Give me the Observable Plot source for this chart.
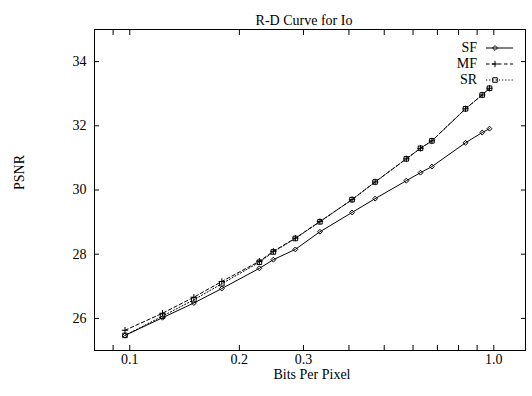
<!DOCTYPE html>
<html>
<head>
<meta charset="utf-8">
<script src="https://cdn.jsdelivr.net/npm/d3@7"></script>
<script src="https://cdn.jsdelivr.net/npm/@observablehq/plot@0.6"></script>
<style>
  html, body { margin: 0; padding: 0; background: #fff; }
  svg { font-family: "Liberation Serif", "Times New Roman", serif; }
</style>
</head>
<body>
<div id="chart"></div>
<script>
const title = "R-D Curve for Io";
const xLabel = "Bits Per Pixel";
const yLabel = "PSNR";
const seriesNames = ["SF", "MF", "SR"];
const bpp = [0.097, 0.123, 0.150, 0.179, 0.227, 0.248, 0.285, 0.333, 0.408, 0.472, 0.575, 0.629, 0.676, 0.836, 0.929, 0.973];
const sf  = [25.47, 26.02, 26.48, 26.93, 27.56, 27.83, 28.15, 28.70, 29.30, 29.73, 30.29, 30.54, 30.73, 31.47, 31.79, 31.91];
const mf  = [25.63, 26.16, 26.66, 27.15, 27.78, 28.09, 28.50, 29.02, 29.70, 30.25, 30.97, 31.30, 31.53, 32.53, 32.96, 33.17];
const sr  = [25.47, 26.07, 26.58, 27.08, 27.75, 28.07, 28.49, 29.01, 29.70, 30.25, 30.97, 31.30, 31.53, 32.53, 32.96, 33.17];
const xTickLabels = [0.1, 0.2, 0.3, 0.5, 1.0];
const xTickMarks = [0.09, 0.1, 0.2, 0.3, 0.4, 0.5, 0.6, 0.7, 0.8, 0.9, 1.0];
const yTicks = [26, 28, 30, 32, 34];

const seriesValues = {SF: sf, MF: mf, SR: sr};
const data = seriesNames.flatMap(s => bpp.map((x, i) => ({series: s, x, y: seriesValues[s][i]})));

// thin gnuplot-like plus
const thinPlus = {
  draw(context, size) {
    const r = Math.sqrt(size / Math.PI);
    context.moveTo(-r, 0); context.lineTo(r, 0);
    context.moveTo(0, -r); context.lineTo(0, r);
  }
};
const styles = {
  SF: {dash: null, symbol: d3.symbolDiamond2, r: 2.2},
  MF: {dash: "3.5,2.5", symbol: thinPlus, r: 3.2},
  SR: {dash: "1.2,2", symbol: d3.symbolSquare2, r: 2.9}
};

const fs = 14;
const lineMarks = seriesNames.flatMap(s => [
  Plot.line(data.filter(d => d.series === s), {x: "x", y: "y", stroke: "black", strokeWidth: 1, strokeDasharray: styles[s].dash}),
  Plot.dot(data.filter(d => d.series === s), {x: "x", y: "y", stroke: "black", fill: "none", strokeWidth: 1, symbol: styles[s].symbol, r: styles[s].r})
]);

const chart = Plot.plot({
  width: 532,
  height: 396,
  marginLeft: 94,
  marginRight: 7,
  marginTop: 29,
  marginBottom: 46,
  style: {fontFamily: "Liberation Serif, Times New Roman, serif", fontSize: fs + "px", background: "white", color: "black"},
  x: {type: "log", domain: [0.08, 1.222], label: null},
  y: {domain: [25, 35], label: null},
  marks: [
    Plot.axisX(xTickMarks, {anchor: "bottom", tickSize: -5, tickFormat: () => "", strokeWidth: 1}),
    Plot.axisX(xTickMarks, {anchor: "top", tickSize: -5, tickFormat: () => "", strokeWidth: 1}),
    Plot.axisX(xTickLabels, {anchor: "bottom", tickSize: 0, tickPadding: 4, tickFormat: d3.format(".1f"), fontSize: fs, fill: "black"}),
    Plot.axisY(yTicks, {anchor: "left", tickSize: -5, tickFormat: () => "", strokeWidth: 1}),
    Plot.axisY(yTicks, {anchor: "right", tickSize: -5, tickFormat: () => "", strokeWidth: 1}),
    Plot.axisY(yTicks, {anchor: "left", tickSize: 0, tickPadding: 8, fontSize: fs, fill: "black"}),
    Plot.frame({stroke: "black", strokeWidth: 1}),
    ...lineMarks,
    Plot.text([title], {frameAnchor: "top", dy: -14, dx: -6, fontSize: fs, fill: "black"}),
    Plot.text([xLabel], {frameAnchor: "bottom", dy: 28, dx: 2, fontSize: fs, fill: "black"}),
    Plot.text([yLabel], {frameAnchor: "left", dx: -75, rotate: -90, fontSize: fs, fill: "black"})
  ]
});

// Legend (gnuplot style, inside top-right)
const svgSel = d3.select(chart);
const frameRight = 532 - 7, frameTop = 29;
const rows = [19, 35, 51];
const legendG = svgSel.append("g");
seriesNames.forEach((s, i) => {
  const yy = frameTop + rows[i];
  legendG.append("text").attr("x", frameRight - 48).attr("y", yy).attr("dy", "0.32em")
    .attr("text-anchor", "end").attr("font-size", fs).attr("fill", "black").text(s);
  legendG.append("line").attr("x1", frameRight - 39).attr("x2", frameRight - 12).attr("y1", yy).attr("y2", yy)
    .attr("stroke", "black").attr("stroke-width", 1).attr("stroke-dasharray", styles[s].dash);
  legendG.append("path").attr("d", d3.symbol(styles[s].symbol, Math.PI * styles[s].r * styles[s].r)())
    .attr("transform", `translate(${frameRight - 30},${yy})`)
    .attr("fill", "none").attr("stroke", "black").attr("stroke-width", 1);
});

document.getElementById("chart").appendChild(chart);
</script>
</body>
</html>
